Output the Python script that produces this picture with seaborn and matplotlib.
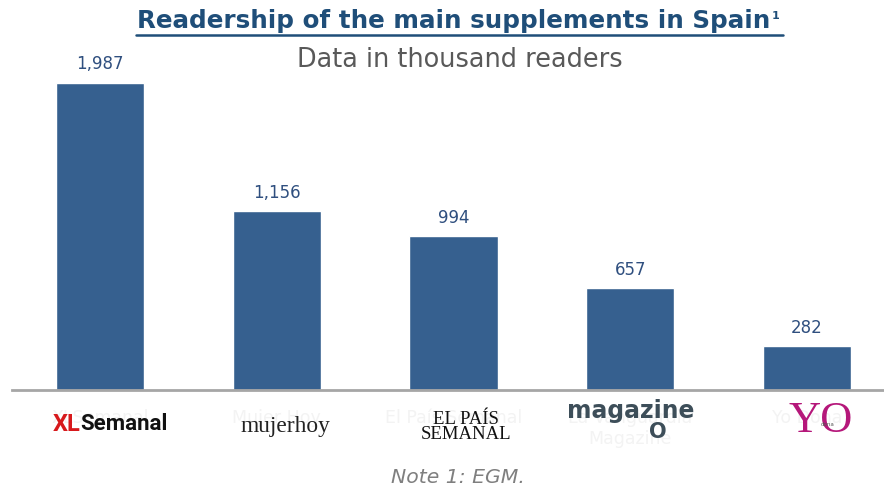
import matplotlib
matplotlib.use("Agg")
import matplotlib.pyplot as plt
import seaborn as sns
import pandas as pd

# data (thousand readers)
supplements = ["XLSemanal", "Mujer Hoy", "El País Semanal", "La Vanguardia\nMagazine", "Yo Dona"]
readers = [1987, 1156, 994, 657, 282]

df = pd.DataFrame({"supplement": supplements, "readers": readers})

sns.set_theme(style="white")
plt.rcParams['font.family'] = ['DejaVu Sans']

fig = plt.figure(figsize=(8.84, 4.9), dpi=100)
ax = fig.add_axes([11.6 / 884, 100 / 490, 872.4 / 884, 340 / 490])

sns.barplot(data=df, x="supplement", y="readers", color="#36608F",
            width=0.5, saturation=1, ax=ax)

ax.set_xlim(-0.5, 4.436)
ax.set_ylim(0, 340 / 0.1545)
ax.set_xlabel("")
ax.set_ylabel("")
ax.set_yticks([])
for s in ["top", "right", "left"]:
    ax.spines[s].set_visible(False)
ax.spines["bottom"].set_color("#A6A6A6")
ax.spines["bottom"].set_linewidth(2)
ax.tick_params(axis="x", length=0, labelsize=12.5, labelcolor="#F3F3F3", pad=14)

# value labels
for cont in ax.containers:
    ax.bar_label(cont, labels=[f"{v:,}" for v in readers], padding=7,
                 fontsize=12, color="#2F4F7F")

renderer = fig.canvas.get_renderer()


def fit(txt, width_px):
    w = txt.get_window_extent(renderer).width
    txt.set_fontsize(txt.get_fontsize() * width_px / w)
    return txt


# logo-like labels drawn on top of the faded tick names
tr = ax.get_xaxis_transform()
ax.text(-0.113, -0.1, "XL", transform=tr, ha="right", va="center", fontsize=17,
        fontweight="bold", color="#D7191C", family="Roboto")
fit(ax.text(-0.113, -0.1, "Semanal", transform=tr, ha="left", va="center", fontsize=15,
            fontweight="bold", color="#111111", family="Roboto"), 88)
fit(ax.text(1.05, -0.108, "mujerhoy", transform=tr, ha="center", va="center", fontsize=15,
            color="#222222", family="Liberation Serif"), 90)
ax.text(2.07, -0.108, "EL PAÍS\nSEMANAL", transform=tr, ha="center", va="center",
        fontsize=13.5, color="#111111", family="Liberation Serif", linespacing=0.85)
fit(ax.text(3.0, -0.062, "magazine", transform=tr, ha="center", va="center", fontsize=16,
            fontweight="bold", color="#3D4E59"), 128)
ax.text(3.157, -0.124, "O", transform=tr, ha="center", va="center", fontsize=15,
        fontweight="bold", color="#3D4E59")
ax.text(4.08, -0.092, "YO", transform=tr, ha="center", va="center", fontsize=32,
        color="#B5177A", family="Liberation Serif")
ax.text(4.12, -0.1, "dona", transform=tr, ha="center", va="center", fontsize=4,
        color="#555555")

# title with underline and superscript
title = fit(fig.text(0.513, 0.957, "Readership of the main supplements in Spain", ha="center",
                     va="center", fontsize=16, fontweight="bold", color="#1F4E79"), 635)
bb = title.get_window_extent(renderer)
fig.text((bb.x1 + 2) / 884, 1 - 16 / 490, "1", ha="left", va="center", fontsize=8,
         fontweight="bold", color="#1F4E79")
fig.add_artist(plt.Line2D([136 / 884, 783 / 884], [1 - 35 / 490, 1 - 35 / 490],
                          color="#1F4E79", linewidth=1.8))
fit(fig.text(0.52, 0.878, "Data in thousand readers", ha="center", va="center",
             fontsize=17, color="#595959"), 327)

fit(fig.text(0.518, 0.0245, "Note 1: EGM.", ha="center", va="center", fontsize=13,
             style="italic", color="#7F7F7F"), 134)

fig.savefig("out.png", dpi=100)
